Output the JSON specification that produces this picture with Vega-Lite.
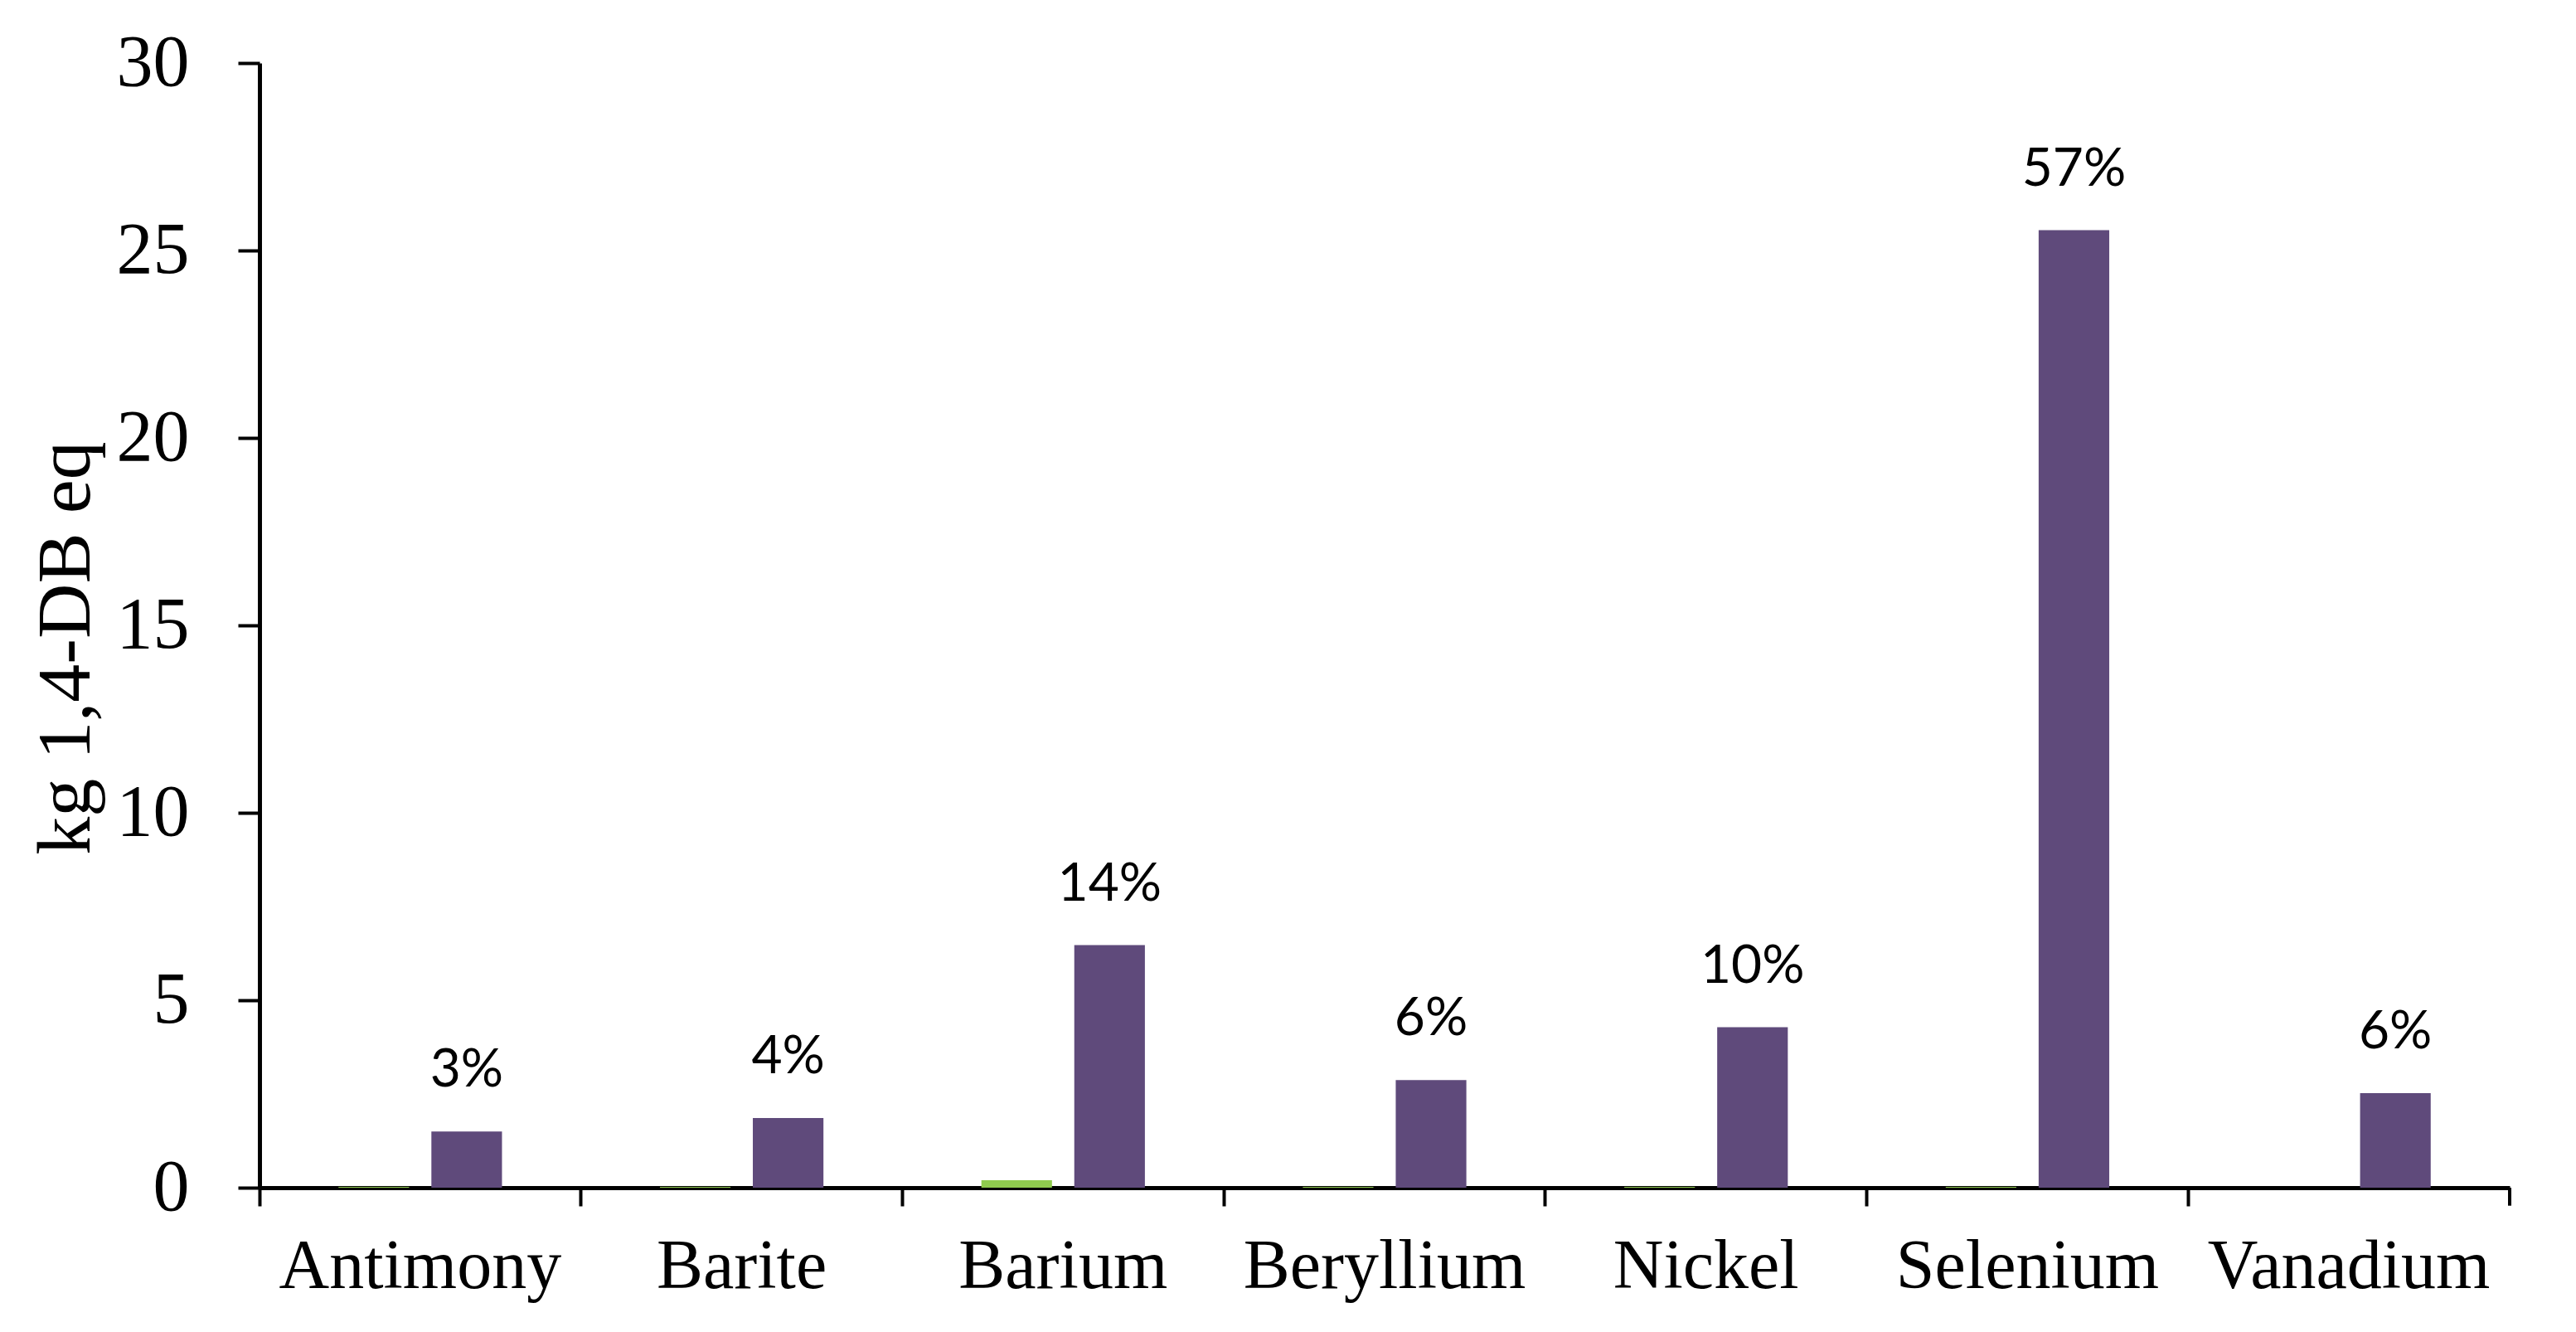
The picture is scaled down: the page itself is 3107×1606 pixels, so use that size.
{
  "$schema": "https://vega.github.io/schema/vega-lite/v6.json",
  "width": 2714,
  "height": 1356,
  "autosize": {"type": "none"},
  "padding": {"left": 313, "top": 76, "right": 80, "bottom": 174},
  "background": "white",
  "config": {"view": {"stroke": null}},
  "data": {
    "values": [
      {"cat": "Antimony", "series": "Series 1", "value": 0.02, "pct": null},
      {"cat": "Antimony", "series": "Series 2", "value": 1.5, "pct": "3%"},
      {"cat": "Barite", "series": "Series 1", "value": 0.02, "pct": null},
      {"cat": "Barite", "series": "Series 2", "value": 1.86, "pct": "4%"},
      {"cat": "Barium", "series": "Series 1", "value": 0.2, "pct": null},
      {"cat": "Barium", "series": "Series 2", "value": 6.47, "pct": "14%"},
      {"cat": "Beryllium", "series": "Series 1", "value": 0.02, "pct": null},
      {"cat": "Beryllium", "series": "Series 2", "value": 2.87, "pct": "6%"},
      {"cat": "Nickel", "series": "Series 1", "value": 0.02, "pct": null},
      {"cat": "Nickel", "series": "Series 2", "value": 4.28, "pct": "10%"},
      {"cat": "Selenium", "series": "Series 1", "value": 0.02, "pct": null},
      {"cat": "Selenium", "series": "Series 2", "value": 25.54, "pct": "57%"},
      {"cat": "Vanadium", "series": "Series 1", "value": 0.0, "pct": null},
      {"cat": "Vanadium", "series": "Series 2", "value": 2.52, "pct": "6%"}
    ]
  },
  "encoding": {
    "x": {
      "field": "cat",
      "type": "nominal",
      "sort": null,
      "scale": {"paddingInner": 0, "paddingOuter": 0},
      "axis": {
        "title": null,
        "labelAngle": 0,
        "labelLimit": 0,
        "labelFont": "Liberation Serif",
        "labelFontSize": 84,
        "labelColor": "black",
        "labelPadding": 32,
        "bandPosition": 0,
        "tickSize": 22,
        "tickWidth": 4,
        "tickColor": "black",
        "domainColor": "black",
        "domainWidth": 5,
        "grid": false
      }
    },
    "y": {
      "field": "value",
      "type": "quantitative",
      "scale": {"domain": [0, 30], "nice": false},
      "axis": {
        "title": "kg 1,4-DB eq",
        "titleFont": "Liberation Serif",
        "titleFontSize": 92,
        "titleFontWeight": "normal",
        "titleColor": "black",
        "titleX": -187,
        "titleY": 705,
        "values": [0, 5, 10, 15, 20, 25, 30],
        "labelFont": "Liberation Serif",
        "labelFontSize": 88,
        "labelColor": "black",
        "labelPadding": 59,
        "tickSize": 26,
        "tickWidth": 4,
        "tickColor": "black",
        "domainColor": "black",
        "domainWidth": 5,
        "grid": false
      }
    }
  },
  "layer": [
    {
      "mark": {"type": "bar"},
      "encoding": {
        "xOffset": {
          "field": "series",
          "type": "nominal",
          "scale": {"paddingInner": 0.24, "paddingOuter": 0.85}
        },
        "color": {
          "field": "series",
          "type": "nominal",
          "scale": {"domain": ["Series 1", "Series 2"], "range": ["#8FCB4E", "#5F4A7B"]},
          "legend": null
        }
      }
    },
    {
      "transform": [{"filter": "datum.pct != null"}],
      "mark": {
        "type": "text",
        "font": "Lato",
        "fontSize": 64,
        "color": "black",
        "baseline": "alphabetic",
        "align": "center",
        "dy": -54
      },
      "encoding": {
        "xOffset": {
          "field": "series",
          "type": "nominal",
          "scale": {"paddingInner": 0.24, "paddingOuter": 0.85}
        },
        "text": {"field": "pct"}
      }
    },
    {
      "transform": [{"filter": "datum.cat == 'Vanadium' && datum.series == 'Series 2'"}],
      "mark": {"type": "rule", "color": "black", "strokeWidth": 4},
      "encoding": {
        "x": {"datum": "Vanadium", "bandPosition": 1},
        "y": {"datum": 0},
        "y2": {"datum": -0.48}
      }
    }
  ]
}
